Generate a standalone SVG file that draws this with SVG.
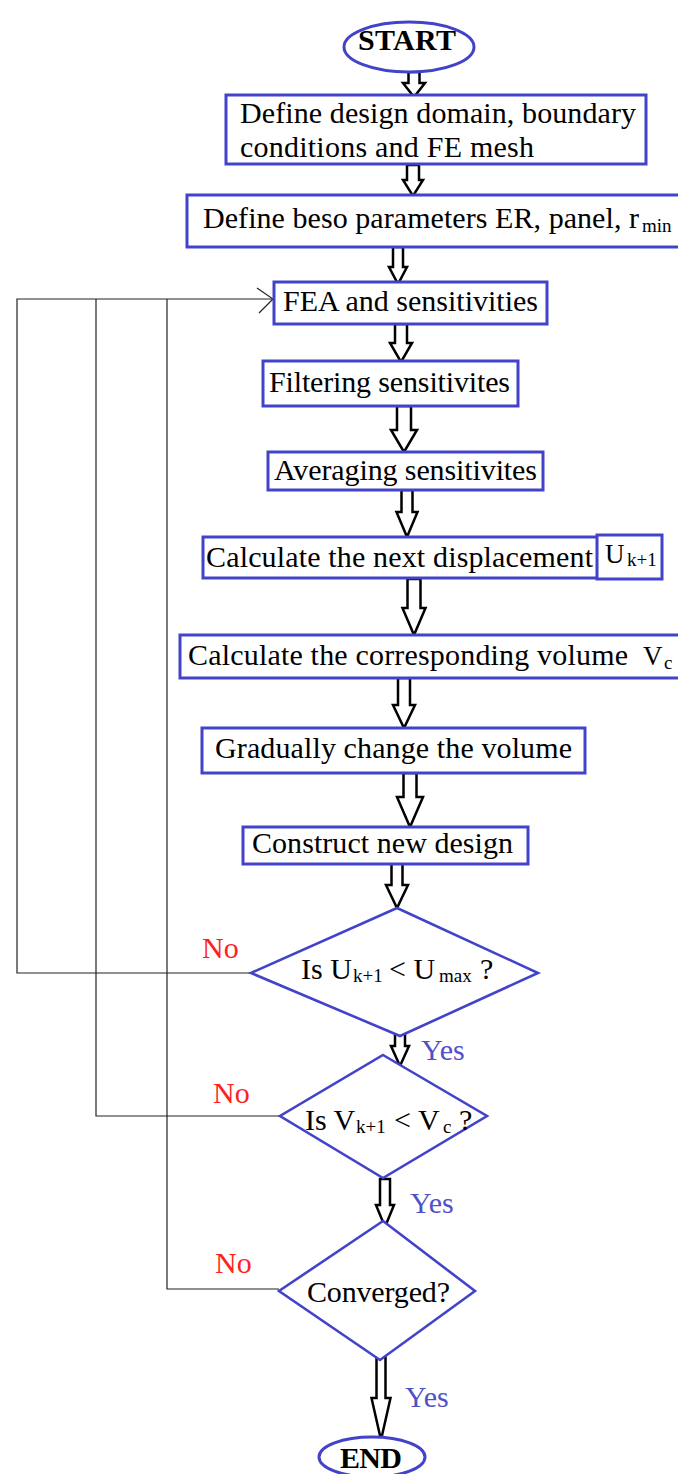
<svg xmlns="http://www.w3.org/2000/svg" width="678" height="1474" viewBox="0 0 678 1474">
<style>
.box{fill:#fff;stroke:#4343C9;stroke-width:3}
.dia{fill:#fff;stroke:#4343C9;stroke-width:2.6}
.blk{fill:#fff;stroke:#000;stroke-width:2.5;stroke-linejoin:miter}
.ln{fill:none;stroke:#222;stroke-width:1.2}
text{font-family:"Liberation Serif","Times New Roman",serif;font-size:30px;fill:#000}
.b{font-weight:bold}
.sub{font-size:19px}
.no{fill:#ff1f1f}
.yes{fill:#5050C8}
</style>
<rect width="678" height="1474" fill="#fff"/>
<g id="connectors">
<polyline class="ln" points="251,973 17,973 17,299 272,299"/>
<polyline class="ln" points="280,1116 96,1116 96,299"/>
<polyline class="ln" points="279,1289 167,1289 167,299"/>
<polyline class="ln" points="257,288 273,299 259,313"/>
<path class="blk" d="M408.5,72 H419.5 V83 H425 L414,97 L403,83 H408.5 Z"/>
<path class="blk" d="M407,165 H419 V180 H423 L413,196 L403,180 H407 Z"/>
<path class="blk" d="M393,247 H403 V267 H407 L398,284 L389,267 H393 Z"/>
<path class="blk" d="M395,324 H407 V343 H412 L401,362 L390,343 H395 Z"/>
<path class="blk" d="M397,406 H411 V430 H417 L404,452 L391,430 H397 Z"/>
<path class="blk" d="M401.5,490 H412.5 V512 H417.5 L407,537 L396.5,512 H401.5 Z"/>
<path class="blk" d="M407.5,579 H420.5 V608 H425.5 L414,635 L402.5,608 H407.5 Z"/>
<path class="blk" d="M398,678 H410 V705 H415 L404,728 L393,705 H398 Z"/>
<path class="blk" d="M403.5,773 H416.5 V797 H423 L410,827 L397,797 H403.5 Z"/>
<path class="blk" d="M391.5,863 H402.5 V885 H408 L397,908 L386,885 H391.5 Z"/>
<path class="blk" d="M395,1033 H405 V1046 H409 L400,1066 L391,1046 H395 Z"/>
<path class="blk" d="M380,1179 H390 V1205 H394 L385,1227 L376,1205 H380 Z"/>
<path class="blk" d="M376.5,1357 H385.5 V1398 H390.5 L381,1440 L371.5,1398 H376.5 Z"/>
<text class="no" x="202" y="958">No</text>
<text class="no" x="213" y="1103">No</text>
<text class="no" x="215" y="1273">No</text>
<text class="yes" x="421" y="1060">Yes</text>
<text class="yes" x="410" y="1213">Yes</text>
<text class="yes" x="405" y="1407">Yes</text>
</g>
<g id="start">
<ellipse class="box" cx="409" cy="47" rx="65" ry="25"/>
<text class="b" x="358" y="50" textLength="98">START</text>
</g>
<g id="define-domain">
<rect class="box" x="226" y="95" width="420" height="69"/>
<text x="240" y="123" textLength="396">Define design domain, boundary</text>
<text x="240" y="157" textLength="294">conditions and FE mesh</text>
</g>
<g id="define-beso">
<rect class="box" x="187" y="195" width="500" height="52"/>
<text x="203" y="228" textLength="436">Define beso parameters ER, panel, r</text>
<text class="sub" x="642" y="232">min</text>
</g>
<g id="fea">
<rect class="box" x="274" y="282" width="273" height="42"/>
<text x="283" y="311" textLength="255">FEA and sensitivities</text>
</g>
<g id="filtering">
<rect class="box" x="263" y="361" width="255" height="45"/>
<text x="269" y="392" textLength="241">Filtering sensitivites</text>
</g>
<g id="averaging">
<rect class="box" x="268" y="452" width="275" height="38"/>
<text x="274" y="480" textLength="263">Averaging sensitivites</text>
</g>
<g id="calc-displacement">
<rect class="box" x="203" y="537" width="395" height="41"/>
<rect class="box" x="597" y="535" width="65" height="44"/>
<text x="206" y="567" textLength="387">Calculate the next displacement</text>
<text x="605" y="563" style="font-size:27px">U</text>
<text class="sub" x="627" y="566">k+1</text>
</g>
<g id="calc-volume">
<rect class="box" x="180" y="635" width="510" height="43"/>
<text x="188" y="665" textLength="440">Calculate the corresponding volume</text>
<text x="643" y="665" style="font-size:27px">V</text>
<text class="sub" x="664" y="669">c</text>
</g>
<g id="gradually">
<rect class="box" x="202" y="728" width="383" height="45"/>
<text x="215" y="758" textLength="357">Gradually change the volume</text>
</g>
<g id="construct">
<rect class="box" x="243" y="827" width="285" height="37"/>
<text x="252" y="853" textLength="261">Construct new design</text>
</g>
<g id="check-u">
<polygon class="dia" points="397,908 538,973 400,1036 251,973"/>
<text x="301" y="979">Is U</text>
<text class="sub" x="353" y="982">k+1</text>
<text x="389" y="979">&lt; U</text>
<text class="sub" x="439" y="982">max</text>
<text x="480" y="979">?</text>
</g>
<g id="check-v">
<polygon class="dia" points="383,1055 487,1116 383,1178 280,1116"/>
<text x="305" y="1130">Is V</text>
<text class="sub" x="356" y="1133">k+1</text>
<text x="394" y="1130">&lt; V</text>
<text class="sub" x="443" y="1133">c</text>
<text x="459" y="1130">?</text>
</g>
<g id="converged">
<polygon class="dia" points="383,1221 475,1291 380,1360 279,1291"/>
<text x="307" y="1302" textLength="143">Converged?</text>
</g>
<g id="end">
<ellipse class="box" cx="372" cy="1457" rx="53" ry="20"/>
<text class="b" x="340" y="1468" textLength="62">END</text>
</g>
</svg>
